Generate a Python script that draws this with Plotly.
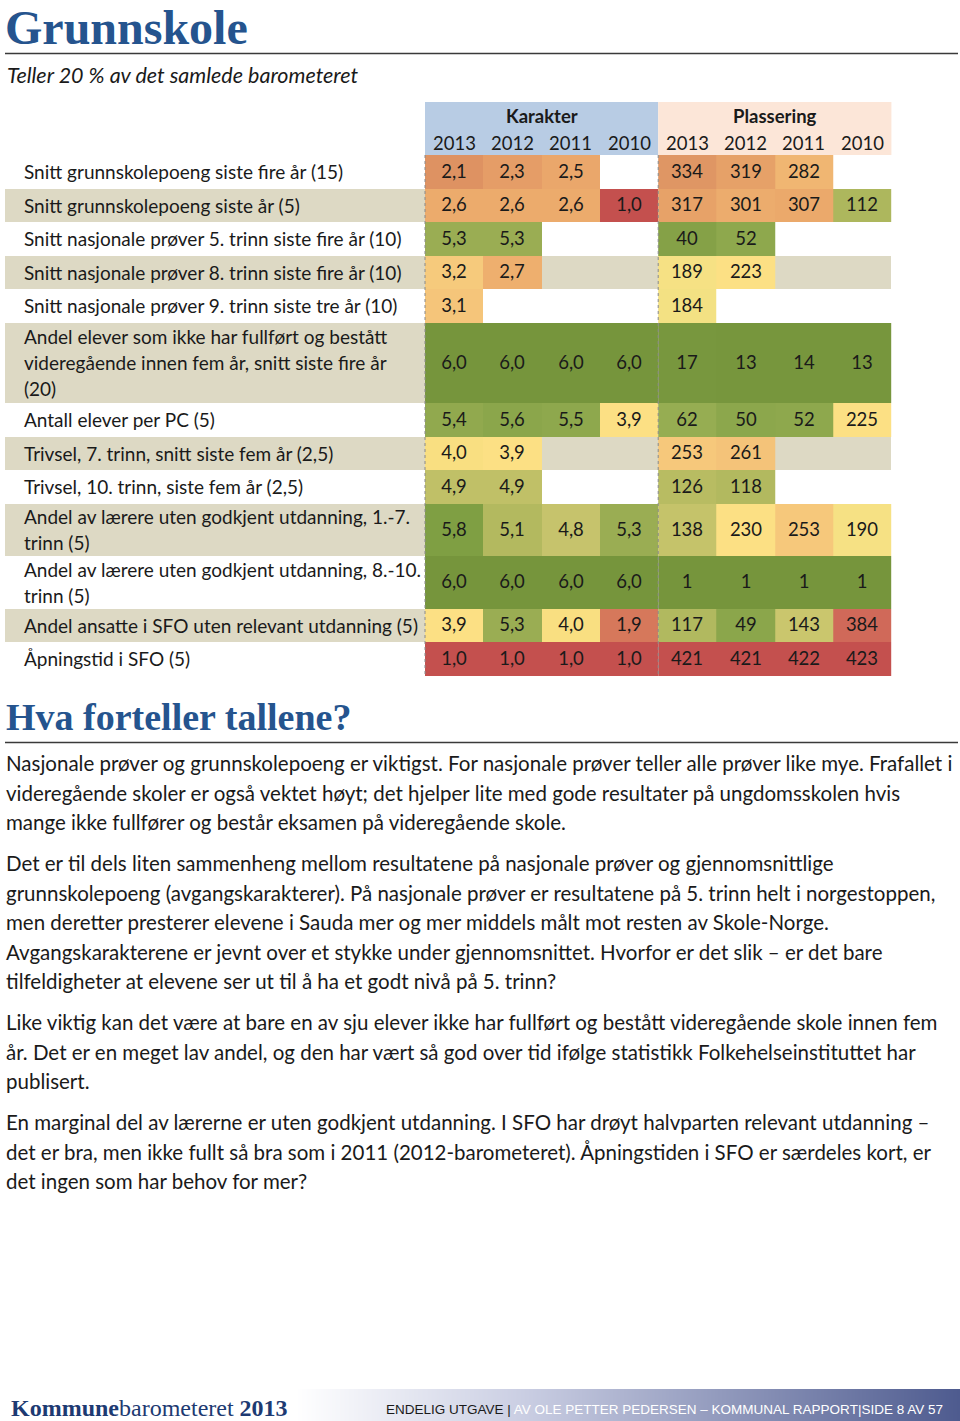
import plotly.graph_objects as go

# ---------------- data ----------------
row_labels = [
    ["Snitt grunnskolepoeng siste fire år (15)"],
    ["Snitt grunnskolepoeng siste år (5)"],
    ["Snitt nasjonale prøver 5. trinn siste fire år (10)"],
    ["Snitt nasjonale prøver 8. trinn siste fire år (10)"],
    ["Snitt nasjonale prøver 9. trinn siste tre år (10)"],
    ["Andel elever som ikke har fullført og bestått",
     "videregående innen fem år, snitt siste fire år", "(20)"],
    ["Antall elever per PC (5)"],
    ["Trivsel, 7. trinn, snitt siste fem år (2,5)"],
    ["Trivsel, 10. trinn, siste fem år (2,5)"],
    ["Andel av lærere uten godkjent utdanning, 1.-7.", "trinn (5)"],
    ["Andel av lærere uten godkjent utdanning, 8.-10.", "trinn (5)"],
    ["Andel ansatte i SFO uten relevant utdanning (5)"],
    ["Åpningstid i SFO (5)"],
]
years = ["2013", "2012", "2011", "2010"]
group_titles = ["Karakter", "Plassering"]
N = None
karakter = [
    [2.1, 2.3, 2.5, N],
    [2.6, 2.6, 2.6, 1.0],
    [5.3, 5.3, N, N],
    [3.2, 2.7, N, N],
    [3.1, N, N, N],
    [6.0, 6.0, 6.0, 6.0],
    [5.4, 5.6, 5.5, 3.9],
    [4.0, 3.9, N, N],
    [4.9, 4.9, N, N],
    [5.8, 5.1, 4.8, 5.3],
    [6.0, 6.0, 6.0, 6.0],
    [3.9, 5.3, 4.0, 1.9],
    [1.0, 1.0, 1.0, 1.0],
]
plassering = [
    [334, 319, 282, N],
    [317, 301, 307, 112],
    [40, 52, N, N],
    [189, 223, N, N],
    [184, N, N, N],
    [17, 13, 14, 13],
    [62, 50, 52, 225],
    [253, 261, N, N],
    [126, 118, N, N],
    [138, 230, 253, 190],
    [1, 1, 1, 1],
    [117, 49, 143, 384],
    [421, 421, 422, 423],
]

title = "Grunnskole"
subtitle = "Teller 20 % av det samlede barometeret"
section_title = "Hva forteller tallene?"
paragraphs = [
    ["Nasjonale prøver og grunnskolepoeng er viktigst. For nasjonale prøver teller alle prøver like mye. Frafallet i",
     "videregående skoler er også vektet høyt; det hjelper lite med gode resultater på ungdomsskolen hvis",
     "mange ikke fullfører og består eksamen på videregående skole."],
    ["Det er til dels liten sammenheng mellom resultatene på nasjonale prøver og gjennomsnittlige",
     "grunnskolepoeng (avgangskarakterer). På nasjonale prøver er resultatene på 5. trinn helt i norgestoppen,",
     "men deretter presterer elevene i Sauda mer og mer middels målt mot resten av Skole-Norge.",
     "Avgangskarakterene er jevnt over et stykke under gjennomsnittet. Hvorfor er det slik – er det bare",
     "tilfeldigheter at elevene ser ut til å ha et godt nivå på 5. trinn?"],
    ["Like viktig kan det være at bare en av sju elever ikke har fullført og bestått videregående skole innen fem",
     "år. Det er en meget lav andel, og den har vært så god over tid ifølge statistikk Folkehelseinstituttet har",
     "publisert."],
    ["En marginal del av lærerne er uten godkjent utdanning. I SFO har drøyt halvparten relevant utdanning –",
     "det er bra, men ikke fullt så bra som i 2011 (2012-barometeret). Åpningstiden i SFO er særdeles kort, er",
     "det ingen som har behov for mer?"],
]
footer_logo = ["Kommune", "barometeret", "2013"]
footer_left = "ENDELIG UTGAVE | "
footer_right = "AV OLE PETTER PEDERSEN – KOMMUNAL RAPPORT|SIDE 8 AV 57"

# ---------------- style / layout ----------------
W, H = 960, 1421
BODY_FONT = "Lato, 'Open Sans', sans-serif"
SERIF = "'Liberation Serif', 'DejaVu Serif', serif"
TXT = "#1a1a1a"
BLUE_TITLE = "#25548E"
GRAY_ROW = "#DDD9C4"
HDR_BLUE = "#B8CCE4"
HDR_PINK = "#FCE6D8"

LABEL_X0, LABEL_TXT_X = 5, 22
TABLE_X0 = 425.0
COL_W = 58.3
TABLE_TOP = 155.0
ROW_H = {1: 33.5, 2: 52.5, 3: 80.5}
LINE_SP = 26
LABEL_FS = 19
CELL_FS = 18.5

kar_stops = [(1.0, "#C4504E"), (1.9, "#D6785B"), (2.1, "#DE9262"), (2.4, "#E8A369"),
             (2.7, "#EEAF6E"), (3.15, "#F6C87B"), (3.9, "#FCE084"), (4.05, "#F7DF80"),
             (4.8, "#C6C36C"), (5.0, "#BABD63"), (5.15, "#B0B75D"), (5.35, "#92AA4F"),
             (5.6, "#8BA64B"), (5.8, "#7F9F43"), (6.0, "#76953C")]
pl_stops = [(1, "#76953C"), (20, "#78973E"), (45, "#88A449"), (62, "#96AD52"),
            (112, "#ADB75D"), (126, "#B8BC62"), (143, "#CAC66D"), (184, "#F3E183"),
            (200, "#FBE286"), (230, "#FCE084"), (253, "#F6C87B"), (282, "#F0B672"),
            (307, "#EBA96B"), (334, "#DF9664"), (384, "#D06959"), (421, "#C4504E"),
            (423, "#C4504E")]


def make_scale(stops):
    lo, hi = stops[0][0], stops[-1][0]
    return [[(v - lo) / (hi - lo), c] for v, c in stops], lo, hi


# row edges
y_edges = [TABLE_TOP]
for lab in row_labels:
    y_edges.append(y_edges[-1] + ROW_H[len(lab)])
row_centers = [(a + b) / 2 for a, b in zip(y_edges[:-1], y_edges[1:])]
nrows = len(row_labels)
ncol = len(years)
kar_x = [TABLE_X0 + i * COL_W for i in range(ncol + 1)]
pl_x = [kar_x[-1] + i * COL_W for i in range(ncol + 1)]
TABLE_X1 = pl_x[-1]

fig = go.Figure()

# row stripes (background)
fig.add_trace(go.Heatmap(
    x=[LABEL_X0, TABLE_X1], y=y_edges,
    z=[[i % 2] for i in range(nrows)],
    colorscale=[[0, "#FFFFFF"], [1, GRAY_ROW]], zmin=0, zmax=1,
    showscale=False, hoverinfo="skip"))


def fmt_k(v):
    return "" if v is None else f"{v:.1f}".replace(".", ",")


def fmt_p(v):
    return "" if v is None else str(v)


for data, xs, stops, fmt in [(karakter, kar_x, kar_stops, fmt_k),
                             (plassering, pl_x, pl_stops, fmt_p)]:
    cs, lo, hi = make_scale(stops)
    fig.add_trace(go.Heatmap(
        x=xs, y=y_edges,
        z=[[float("nan") if v is None else v for v in row] for row in data],
        text=[[fmt(v) for v in row] for row in data],
        texttemplate="%{text}",
        textfont=dict(family=BODY_FONT, size=CELL_FS, color=TXT),
        colorscale=cs, zmin=lo, zmax=hi, showscale=False, hoverinfo="skip"))

# footer gradient band
fig.add_trace(go.Heatmap(
    x=[295, 958], y=[1399, 1419], z=[[0, 1], [0, 1]],
    zsmooth="best",
    colorscale=[[0, "#FFFFFF"], [0.35, "#C9CDE2"], [1, "#4E5B8F"]],
    showscale=False, hoverinfo="skip"))

shapes = []
ann = []
# header blocks
hdr_top = 102
shapes.append(dict(type="rect", xref="x", yref="y", x0=kar_x[0], x1=kar_x[-1],
                   y0=hdr_top, y1=TABLE_TOP, fillcolor=HDR_BLUE, line_width=0, layer="below"))
shapes.append(dict(type="rect", xref="x", yref="y", x0=pl_x[0], x1=pl_x[-1],
                   y0=hdr_top, y1=TABLE_TOP, fillcolor=HDR_PINK, line_width=0, layer="below"))
for gt, xs in zip(group_titles, [kar_x, pl_x]):
    ann.append(dict(x=(xs[0] + xs[-1]) / 2, y=115.5, text=f"<b>{gt}</b>",
                    font=dict(family=BODY_FONT, size=CELL_FS, color=TXT)))
    for i, yr in enumerate(years):
        ann.append(dict(x=(xs[i] + xs[i + 1]) / 2, y=142.5, text=yr,
                        font=dict(family=BODY_FONT, size=CELL_FS, color=TXT)))
# dotted separators
for xv in [kar_x[0], pl_x[0]]:
    shapes.append(dict(type="line", xref="x", yref="y", x0=xv, x1=xv, y0=TABLE_TOP,
                       y1=y_edges[-1], line=dict(color="#8a8a8a", width=1, dash="dot")))

# row labels
for lab, yc in zip(row_labels, row_centers):
    n = len(lab)
    for k, line in enumerate(lab):
        ann.append(dict(x=LABEL_TXT_X, y=yc + (k - (n - 1) / 2) * LINE_SP, text=line,
                        xanchor="left",
                        font=dict(family=BODY_FONT, size=LABEL_FS, color=TXT)))

# titles
ann.append(dict(x=3, y=27, text=f"<b>{title}</b>", xanchor="left",
                font=dict(family=SERIF, size=48, color=BLUE_TITLE)))
shapes.append(dict(type="line", xref="x", yref="y", x0=5, x1=958, y0=53.5, y1=53.5,
                   line=dict(color="#3a3a3a", width=1.3)))
ann.append(dict(x=5, y=75, text=f"<i>{subtitle}</i>", xanchor="left",
                font=dict(family=BODY_FONT, size=21.5, color=TXT)))

ann.append(dict(x=4, y=717, text=f"<b>{section_title}</b>", xanchor="left",
                font=dict(family=SERIF, size=38, color=BLUE_TITLE)))
shapes.append(dict(type="line", xref="x", yref="y", x0=5, x1=958, y0=742.5, y1=742.5,
                   line=dict(color="#3a3a3a", width=1.3)))

# body text
BODY_LINE = 29.5
PARA_GAP = 11.5
y = 763
for para in paragraphs:
    for line in para:
        ann.append(dict(x=4, y=y, text=line, xanchor="left",
                        font=dict(family=BODY_FONT, size=20.5, color=TXT)))
        y += BODY_LINE
    y += PARA_GAP

# footer
ann.append(dict(x=9, y=1408,
                text=(f"<b>{footer_logo[0]}</b>{footer_logo[1]}<b> {footer_logo[2]}</b>"),
                xanchor="left",
                font=dict(family=SERIF, size=24, color="#1D3A72")))
ann.append(dict(x=945, y=1409,
                text=(f"<span style='color:#1a1a1a'>{footer_left}</span>"
                      f"<span style='color:#FFFFFF'>{footer_right}</span>"),
                xanchor="right",
                font=dict(family="'Liberation Sans Narrow', 'Liberation Sans', sans-serif",
                          size=13.5, color="#FFFFFF")))

for a in ann:
    a.setdefault("xref", "x")
    a.setdefault("yref", "y")
    a.setdefault("showarrow", False)
    a.setdefault("yanchor", "middle")

fig.update_layout(
    width=W, height=H, margin=dict(l=0, r=0, t=0, b=0),
    paper_bgcolor="white", plot_bgcolor="white",
    xaxis=dict(range=[0, W], visible=False, fixedrange=True),
    yaxis=dict(range=[H, 0], visible=False, fixedrange=True),
    shapes=shapes, annotations=ann, showlegend=False,
)
fig.write_html("out.html", config={"displayModeBar": False},
               post_script="document.body.style.margin='0';document.body.style.overflow='hidden';")
